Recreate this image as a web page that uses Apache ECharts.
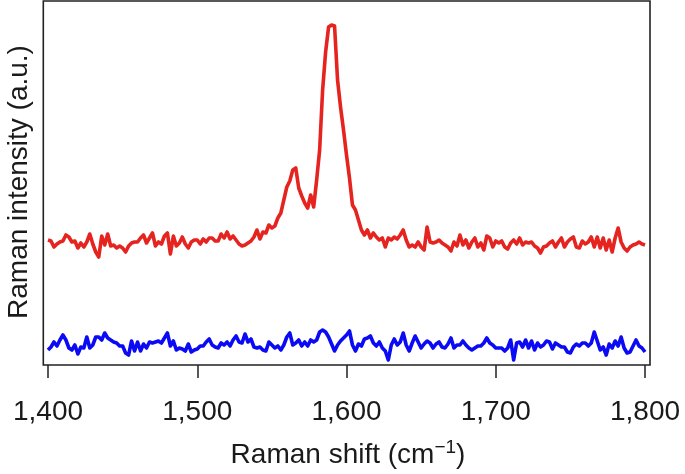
<!DOCTYPE html>
<html><head><meta charset="utf-8">
<script src="https://cdn.jsdelivr.net/npm/echarts@6/dist/echarts.min.js"></script>
<style>html,body{margin:0;padding:0;background:#fff}#c{width:685px;height:474px}</style>
</head><body><div id="c"></div>
<script>
// Raman shift sampling (cm^-1): start and step of the recorded grid
const shiftStart = 1400;
const shiftStep = 2;

// Red spectrum (a.u.), one value per sample from 1400 to 1800
const redIntensity = [
125,124,118,121,123,124,130,128,123,124,
117,122,118,123,131,121,113,108,129,120,
131,119,120,117,119,117,113,119,122,123,
123,127,130,122,127,132,119,123,121,129,
132,111,129,119,122,128,121,117,123,125,
125,121,126,123,127,127,124,124,131,127,
133,126,129,125,121,119,120,122,124,128,
135,126,133,132,140,137,139,147,152,165,
178,184,195,197,177,169,162,157,170,158,
185,215,275,313,338,340,339,285,258,235,
210,187,160,155,145,135,130,135,127,132,
128,125,127,118,127,125,128,126,130,135,
125,118,120,118,123,118,115,138,123,122,
123,125,122,120,118,114,123,119,130,120,
125,117,123,127,118,122,115,129,127,118,
124,122,124,118,116,122,125,121,127,120,
123,122,123,119,117,112,118,119,122,124,
118,123,127,118,123,126,128,118,117,124,
121,123,128,118,128,117,127,115,125,113,
127,137,123,117,114,118,120,121,123,121,
120
];

// Blue spectrum (a.u.)
const blueIntensity = [
15,18,23,19,25,30,25,17,15,20,
11,18,17,28,17,20,28,28,25,32,
27,25,23,22,19,19,12,10,24,14,
23,14,21,17,23,22,23,24,22,27,
32,19,24,15,17,16,14,21,13,15,
16,19,19,23,26,20,18,17,22,20,
23,19,25,29,23,22,31,23,26,18,
17,18,15,14,23,20,17,19,15,20,
28,32,20,22,25,19,23,19,25,23,
25,33,35,33,28,21,14,20,24,27,
30,34,20,14,21,19,26,27,29,22,
19,23,17,14,5,20,26,20,23,32,
20,14,22,29,23,17,21,24,22,17,
21,23,18,17,21,27,17,20,20,24,
20,17,15,17,19,19,22,27,22,20,
17,17,17,14,17,25,5,22,23,18,
25,17,24,15,22,18,20,24,23,16,
22,20,18,18,13,12,18,21,19,22,
22,19,22,33,24,15,18,10,21,17,
24,19,28,17,12,13,19,25,19,17,
13
];

// X tick values and their labels
const xTickValues = [1400, 1500, 1600, 1700, 1800];
const xTickLabels = ['1,400', '1,500', '1,600', '1,700', '1,800'];

const xTitle = 'Raman shift (cm';
const xTitleSup = '−1';
const yTitle = 'Raman intensity (a.u.)';

const redData = redIntensity.map((v, i) => [shiftStart + i * shiftStep, v]);
const blueData = blueIntensity.map((v, i) => [shiftStart + i * shiftStep, v]);

const FONT = 'Liberation Sans, Arial, Helvetica, sans-serif';
const chart = echarts.init(document.getElementById('c'), null, {renderer: 'canvas'});
chart.setOption({
  animation: false,
  backgroundColor: '#fff',
  grid: {left: 48, right: 40, top: 1, bottom: 109, containLabel: false},
  xAxis: {
    type: 'value', min: 1400, max: 1800, interval: 100,
    axisLine: {show: false},
    axisTick: {show: true, length: 13, lineStyle: {color: '#222', width: 1.5}},
    axisLabel: {
      margin: 33, fontSize: 28, color: '#1a1a1a', fontFamily: FONT,
      formatter: v => { const k = xTickValues.indexOf(v); return k >= 0 ? xTickLabels[k] : ''; }
    },
    splitLine: {show: false}
  },
  yAxis: {
    type: 'value', min: 0, max: 364,
    axisLine: {show: false}, axisTick: {show: false}, axisLabel: {show: false},
    splitLine: {show: false}
  },
  series: [
    {type: 'line', data: redData, showSymbol: false, lineStyle: {color: '#e5231f', width: 3.6, join: 'round'}, itemStyle: {color: '#e5231f'}},
    {type: 'line', data: blueData, showSymbol: false, lineStyle: {color: '#0a0af5', width: 3.6, join: 'round'}, itemStyle: {color: '#0a0af5'}}
  ],
  graphic: [
    {type: 'rect', shape: {x: 43.3, y: 1, width: 606.7, height: 364}, style: {fill: 'none', stroke: '#222', lineWidth: 1.6}, z: 10},
    {type: 'text', x: 19, y: 182, rotation: Math.PI / 2,
      style: {text: yTitle, fontSize: 28, fontFamily: FONT, fill: '#1a1a1a', align: 'center', verticalAlign: 'middle'}},
    {type: 'text', x: 348, y: 455,
      style: {
        text: '{a|' + xTitle + '}{s|' + xTitleSup + '}{a|)}',
        align: 'center', verticalAlign: 'middle',
        rich: {
          a: {fontSize: 28, fontFamily: FONT, fill: '#1a1a1a', lineHeight: 34},
          s: {fontSize: 19, fontFamily: FONT, fill: '#1a1a1a', lineHeight: 22, verticalAlign: 'top'}
        }
      }}
  ]
});
</script>
</body></html>
